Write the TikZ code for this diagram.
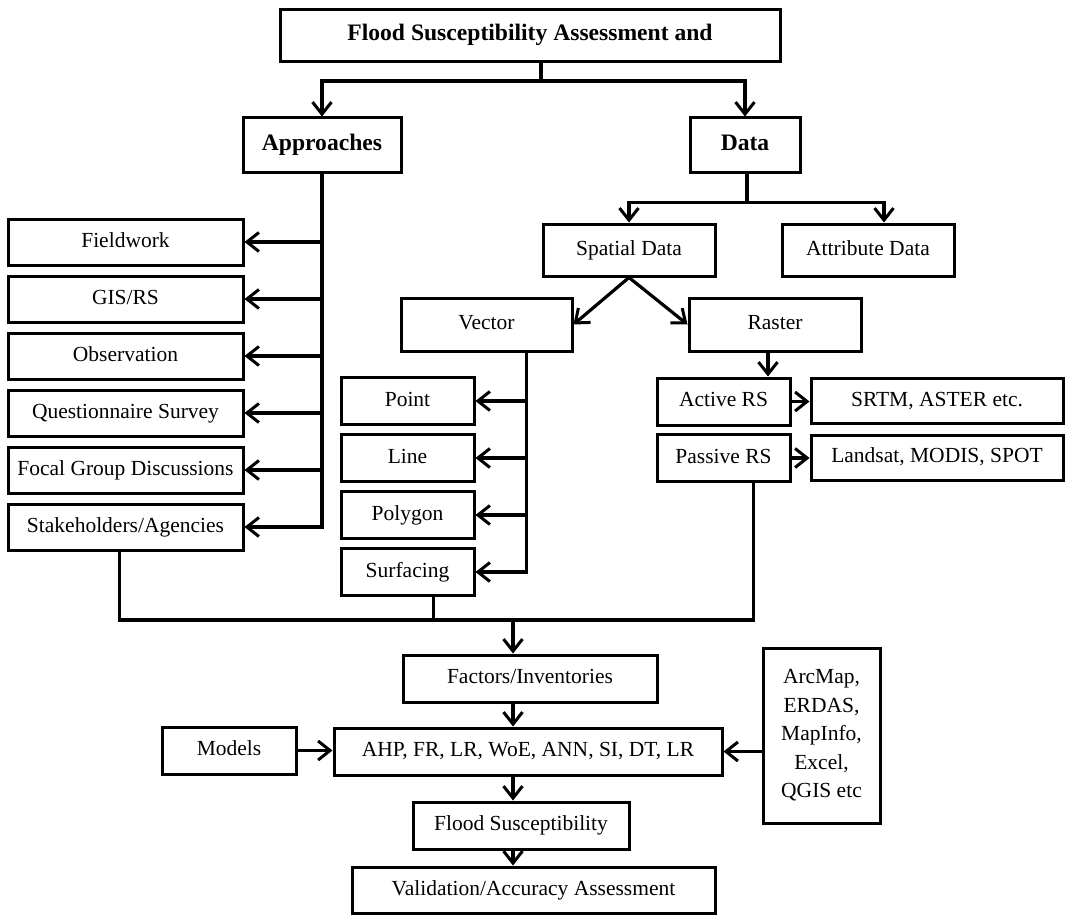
\documentclass[tikz,border=0pt]{standalone}
\usepackage{fontspec}
\setmainfont{Liberation Serif}
\usetikzlibrary{arrows.meta, calc}

\begin{document}
\begin{tikzpicture}[x=1pt, y=-1pt, >={Straight Barb[length=12pt,width=19pt,line width=3pt]},
  tallbox/.style={draw, line width=3pt, inner sep=2pt, align=center, font=\fontsize{21.5}{28.5}\selectfont},
  box/.style={tallbox, text height=14.5pt, text depth=4.5pt},
  hbox/.style={box, font=\fontsize{23.6}{28}\selectfont\bfseries},
  link/.style={line width=3.2pt},
  arr/.style={link, ->}]
\useasboundingbox (0,0) rectangle (1065,915);
% top levels
\node[hbox, minimum width=500pt, minimum height=52pt] (top) at (530,36) {Flood Susceptibility Assessment and};
\node[hbox, minimum width=158pt, minimum height=54pt] (appr) at (322,145) {Approaches};
\node[hbox, minimum width=110pt, minimum height=54pt] (data) at (745,145) {Data};
\coordinate (j1) at (541,81);
\draw[link](top.south -| j1)--(j1);
\draw[arr](j1)-|(appr.north);
\draw[arr](j1)-|(data.north);
% approaches
\foreach \t [count=\i] in {Fieldwork, GIS/RS, Observation, Questionnaire Survey, Focal Group Discussions, Stakeholders/Agencies}
  \node[box, minimum width=235pt, minimum height=46pt] (l\i) at (125.5,185+57*\i) {\t};
\draw[arr](appr.south)|-(l6.east);
\foreach \i in {1,...,5} \draw[arr](appr.south |- l\i.east)--(l\i.east);
% data
\node[box, minimum width=172pt, minimum height=52pt] (spat) at (629,250) {Spatial Data};
\node[box, minimum width=172pt, minimum height=52pt] (attr) at (868,250) {Attribute Data};
\coordinate (j2) at ($(data.south)+(2,29)$);
\draw[link](data.south -| j2)--(j2);
\draw[arr](j2)-|(spat.north);
\draw[arr](j2)-|([xshift=16pt]attr.north);
\node[box, minimum width=171pt, minimum height=53pt] (vec) at (486.5,324.5) {Vector};
\node[box, minimum width=172pt, minimum height=53pt] (ras) at (775,324.5) {Raster};
\draw[link, <->](vec.east)--(spat.south)--(ras.west);
% vector
\foreach \t [count=\i] in {Point, Line, Polygon, Surfacing}
  \node[box, minimum width=133pt, minimum height=47pt] (v\i) at (407.5,344+57*\i) {\t};
\coordinate (vt) at ([xshift=40pt]vec.south);
\draw[arr](vt)|-(v4.east);
\foreach \i in {1,2,3} \draw[arr](vt |- v\i.east)--(v\i.east);
% raster
\node[box, minimum width=133pt, minimum height=47pt] (act) at (723.5,401.5) {Active RS};
\node[box, minimum width=133pt, minimum height=47pt] (pas) at (723.5,458) {Passive RS};
\node[box, minimum width=252pt, minimum height=45pt] (srtm) at (937,401) {SRTM, ASTER etc.};
\node[box, minimum width=252pt, minimum height=45pt] (lsat) at (937,457.5) {Landsat, MODIS, SPOT};
\coordinate (rt) at ([xshift=-7pt]ras.south);
\draw[arr](rt)--(rt |- act.north);
\draw[arr](act.east)--(act.east -| srtm.west);
\draw[arr](pas.east)--(pas.east -| lsat.west);
% collect
\coordinate (mid) at (513,620);
\draw[link]([xshift=-6pt]l6.south)|-(mid)-|([xshift=30pt]pas.south);
\draw[link]([xshift=26pt]v4.south)--([xshift=26pt]v4.south |- mid);
\node[box, minimum width=254pt, minimum height=47pt] (fac) at (530,678.5) {Factors/Inventories};
\node[box, minimum width=388pt, minimum height=47pt] (ahp) at (528,751.5) {AHP, FR, LR, WoE, ANN, SI, DT, LR};
\node[box, minimum width=134pt, minimum height=47pt] (mod) at (229,750.5) {Models};
\node[tallbox, minimum width=117pt, minimum height=175pt] (arc) at (821.5,735.5) {ArcMap,\\ERDAS,\\MapInfo,\\Excel,\\QGIS etc};
\node[box, minimum width=216pt, minimum height=47pt] (fs) at (521,825.5) {Flood Susceptibility};
\node[box, minimum width=363pt, minimum height=46pt] (val) at (533.5,890) {Validation/Accuracy Assessment};
\draw[arr](mid)--(mid |- fac.north);
\draw[arr](fac.south -| mid)--(ahp.north -| mid);
\draw[arr](ahp.south -| mid)--(fs.north -| mid);
\draw[arr](fs.south -| mid)--(val.north -| mid);
\draw[arr](mod.east)--(mod.east -| ahp.west);
\draw[arr](ahp.east -| arc.west)--(ahp.east);
\end{tikzpicture}
\end{document}
